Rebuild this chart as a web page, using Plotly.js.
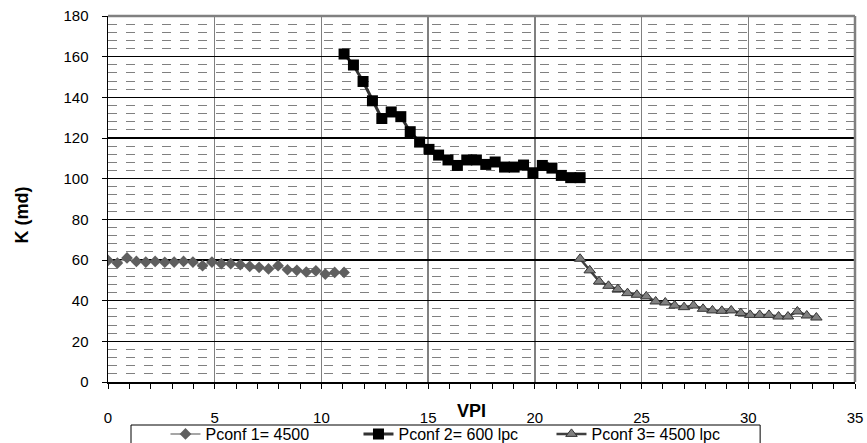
<!DOCTYPE html>
<html>
<head>
<meta charset="utf-8">
<script src="https://cdn.plot.ly/plotly-3.0.1.min.js"></script>
<style>html,body{margin:0;padding:0;background:#fff;}#chart{width:867px;height:443px;}</style>
</head>
<body>
<div id="chart"></div>
<script>
var seriesNames = ["Pconf 1= 4500", "Pconf 2= 600 lpc", "Pconf 3= 4500 lpc"];

var x1 = [0, 0.44, 0.89, 1.33, 1.77, 2.21, 2.66, 3.10, 3.54, 3.98, 4.43, 4.87, 5.31, 5.75, 6.20, 6.64, 7.08, 7.52, 7.97, 8.41, 8.85, 9.29, 9.74, 10.18, 10.62, 11.06];
var y1 = [59.8, 58.5, 61.0, 59.3, 59.0, 59.3, 58.9, 59.0, 59.3, 59.0, 57.2, 59.0, 58.2, 58.2, 57.7, 56.9, 56.4, 55.6, 57.2, 55.2, 54.9, 54.1, 54.7, 53.1, 53.9, 53.9];

var x2 = [11.06, 11.50, 11.95, 12.39, 12.83, 13.27, 13.72, 14.16, 14.60, 15.04, 15.49, 15.93, 16.37, 16.81, 17.26, 17.70, 18.14, 18.58, 19.03, 19.47, 19.91, 20.35, 20.80, 21.24, 21.68, 22.12];
var y2 = [161.3, 155.9, 147.8, 138.3, 129.6, 132.8, 130.5, 123.1, 118.0, 114.4, 111.6, 109.2, 106.5, 109.2, 109.2, 107.0, 108.2, 105.7, 105.7, 106.7, 102.9, 106.5, 105.2, 101.6, 100.5, 100.5];

var x3 = [22.12, 22.57, 23.01, 23.45, 23.89, 24.34, 24.78, 25.22, 25.66, 26.11, 26.55, 26.99, 27.43, 27.88, 28.32, 28.76, 29.20, 29.65, 30.09, 30.53, 30.97, 31.42, 31.86, 32.30, 32.74, 33.19];
var y3 = [60.6, 54.9, 49.5, 47.3, 45.7, 43.7, 42.9, 42.1, 39.6, 39.1, 37.6, 36.8, 37.6, 36.0, 35.2, 35.0, 35.2, 33.9, 33.0, 33.0, 33.0, 32.2, 32.2, 34.7, 32.7, 31.7];

var xTitle = "VPI";
var yTitle = "K (md)";

var font = "'Liberation Sans', Arial, sans-serif";

var traces = [
  {x: x1, y: y1, name: seriesNames[0], type: "scatter", mode: "lines+markers",
   line: {color: "#a6a6a6", width: 2},
   marker: {symbol: "diamond", size: 9, color: "#5f5f5f", line: {width: 0}}},
  {x: x2, y: y2, name: seriesNames[1], type: "scatter", mode: "lines+markers",
   line: {color: "#333333", width: 3},
   marker: {symbol: "square", size: 11, color: "#000000", line: {width: 0}}},
  {x: x3, y: y3, name: seriesNames[2], type: "scatter", mode: "lines+markers",
   line: {color: "#404040", width: 2.5},
   marker: {symbol: "triangle-up", size: 10, color: "#808080", line: {width: 1, color: "#333333"}}}
];

var layout = {
  width: 867, height: 443,
  margin: {l: 108, r: 12, t: 16, b: 61, autoexpand: false},
  paper_bgcolor: "#ffffff", plot_bgcolor: "#ffffff",
  font: {family: font, size: 14, color: "#000"},
  showlegend: true,
  legend: {
    orientation: "h", x: 0.4645, xanchor: "center", y: -0.0956, yanchor: "top",
    borderwidth: 0, bgcolor: "rgba(0,0,0,0)",
    font: {family: font, size: 16, color: "#000"},
    entrywidth: 148, entrywidthmode: "pixels", tracegroupgap: 0
  },
  xaxis: {
    range: [0, 35], dtick: 5, tick0: 0,
    showgrid: true, gridcolor: "#808080", gridwidth: 1.5,
    zeroline: false, showline: true, linecolor: "#000", linewidth: 1.5,
    ticks: "outside", ticklen: 5, tickcolor: "#000", tickwidth: 1,
    ticklabelstandoff: 16,
    tickfont: {family: font, size: 15, color: "#000"},
    minor: {dtick: 1, ticks: "outside", ticklen: 5, tickcolor: "#000", tickwidth: 1, showgrid: false}
  },
  yaxis: {
    range: [0, 180], dtick: 20, tick0: 0,
    showgrid: true, gridcolor: "#000", gridwidth: 1.5,
    zeroline: false, showline: true, linecolor: "#000", linewidth: 1.5,
    ticks: "outside", ticklen: 5, tickcolor: "#000", tickwidth: 1,
    ticklabelstandoff: 10,
    tickfont: {family: font, size: 15, color: "#000"},
    minor: {dtick: 4, ticks: "", showgrid: true, gridcolor: "#808080", gridwidth: 1, griddash: "dash"}
  },
  shapes: [
    {type: "line", xref: "paper", yref: "paper", x0: 0, x1: 1, y0: 1, y1: 1, line: {color: "#808080", width: 2.5}},
    {type: "line", xref: "paper", yref: "paper", x0: 1, x1: 1, y0: 0, y1: 1, line: {color: "#808080", width: 2.5}},
    {type: "rect", xref: "paper", yref: "paper", x0: 0.0308, x1: 0.873, y0: -0.1175, y1: -0.25, line: {color: "#000", width: 1}, fillcolor: "rgba(0,0,0,0)"}
  ],
  annotations: [
    {text: "<b>" + xTitle + "</b>", xref: "paper", yref: "paper", x: 0.487, y: -0.079,
     xanchor: "center", yanchor: "middle", showarrow: false, font: {family: font, size: 18, color: "#000"}},
    {text: "<b>" + yTitle + "</b>", xref: "paper", yref: "paper", x: -0.115, y: 0.455,
     xanchor: "center", yanchor: "middle", textangle: -90, showarrow: false, font: {family: font, size: 18, color: "#000"}}
  ]
};

Plotly.newPlot("chart", traces, layout, {displayModeBar: false, staticPlot: true});
</script>
</body>
</html>
